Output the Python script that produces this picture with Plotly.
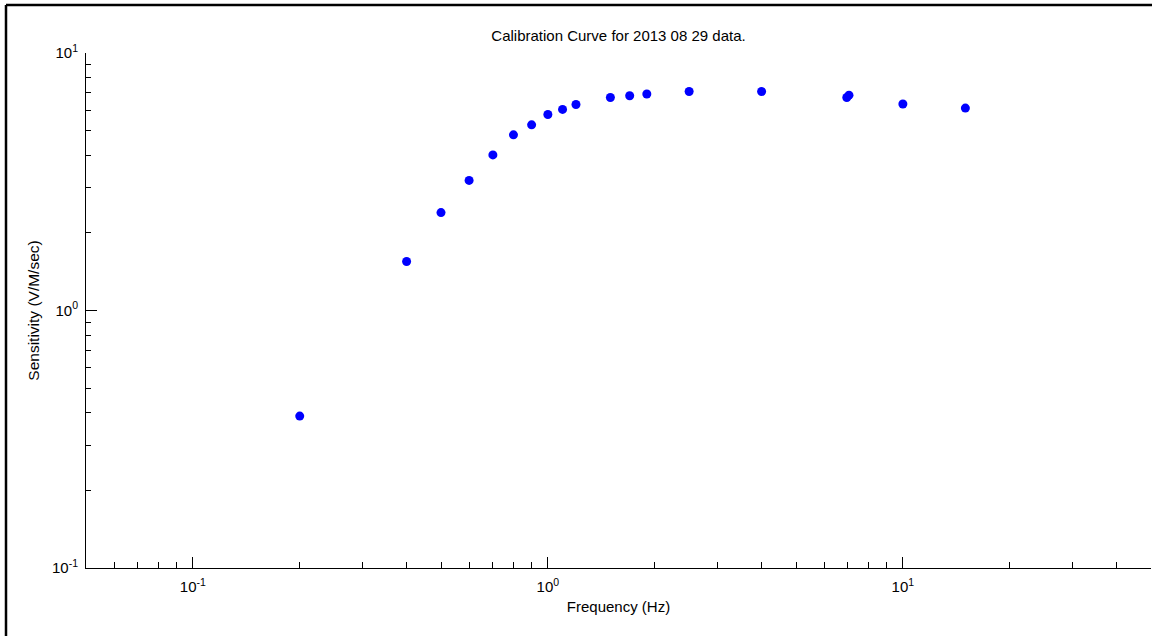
import math
import plotly.graph_objects as go

# Data
frequency_hz = [0.2, 0.4, 0.5, 0.6, 0.7, 0.8, 0.9, 1.0, 1.1, 1.2, 1.5, 1.7, 1.9, 2.5, 4.0, 6.95, 7.05, 10.0, 15.0]
sensitivity = [0.389, 1.55, 2.40, 3.20, 4.02, 4.81, 5.26, 5.77, 6.04, 6.31, 6.72, 6.82, 6.93, 7.09, 7.09, 6.72, 6.86, 6.34, 6.11]

title_text = "Calibration Curve for 2013 08 29 data."
x_title = "Frequency (Hz)"
y_title = "Sensitivity (V/M/sec)"
x_limits = [0.05, 50]
y_limits = [0.1, 10]
x_tick_values = [0.1, 1, 10]
x_tick_labels = ["10<sup>-1</sup>", "10<sup>0</sup>", "10<sup>1</sup>"]
y_tick_values = [0.1, 1, 10]
y_tick_labels = ["10<sup>-1</sup>", "10<sup>0</sup>", "10<sup>1</sup>"]

W, H = 1152, 636
ML, MR, MT, MB = 86, 1, 53, 68
FONT = "Liberation Sans, Arial, Helvetica, sans-serif"
FS = 15

fig = go.Figure()
fig.add_trace(go.Scatter(
    x=frequency_hz, y=sensitivity, mode="markers",
    marker=dict(color="#0000FF", size=9, line=dict(width=0)),
    showlegend=False,
))

pw = W - ML - MR
ph = H - MT - MB
def px_x(p):
    return (p - ML) / pw
def px_y(p):
    return (H - MB - p) / ph

fig.update_layout(
    width=W, height=H,
    margin=dict(l=ML, r=MR, t=MT, b=MB, autoexpand=False),
    paper_bgcolor="white", plot_bgcolor="white",
    font=dict(family=FONT, size=FS, color="black"),
    title=dict(text=title_text, x=0.5, xref="paper", xanchor="center",
               y=1 - 36 / H, yref="container", yanchor="middle",
               font=dict(family=FONT, size=FS, color="black")),
    xaxis=dict(
        type="log", range=[math.log10(x_limits[0]), math.log10(x_limits[1])],
        tickmode="array", tickvals=x_tick_values, ticktext=x_tick_labels,
        showgrid=False, zeroline=False,
        showline=True, linecolor="black", linewidth=1,
        ticks="inside", ticklen=11, tickcolor="black", tickwidth=1,
        minor=dict(ticks="inside", ticklen=6, tickcolor="black", tickwidth=1, dtick="D1", showgrid=False),
        title=dict(text=x_title, standoff=7, font=dict(family=FONT, size=FS)),
        tickfont=dict(family=FONT, size=FS),
        ticklabelstandoff=5,
        automargin=False,
    ),
    yaxis=dict(
        type="log", range=[math.log10(y_limits[0]), math.log10(y_limits[1])],
        tickmode="array", tickvals=y_tick_values, ticktext=y_tick_labels,
        showgrid=False, zeroline=False,
        showline=True, linecolor="black", linewidth=1,
        ticks="inside", ticklen=11, tickcolor="black", tickwidth=1,
        minor=dict(ticks="inside", ticklen=5, tickcolor="black", tickwidth=1, dtick="D1", showgrid=False),
        title=dict(text=y_title, standoff=8, font=dict(family=FONT, size=15.5)),
        tickfont=dict(family=FONT, size=FS),
        ticklabelstandoff=4,
        automargin=False,
    ),
    shapes=[
        dict(type="line", xref="paper", yref="paper",
             x0=px_x(6), x1=px_x(W + 2), y0=px_y(5), y1=px_y(5),
             line=dict(color="black", width=2.5)),
        dict(type="line", xref="paper", yref="paper",
             x0=px_x(6), x1=px_x(6), y0=px_y(5), y1=px_y(H + 2),
             line=dict(color="black", width=2.5)),
    ],
)

fig.write_html(
    "out.html",
    config={"displayModeBar": False},
    post_script="document.body.style.margin='0';document.body.style.overflow='hidden';",
)
